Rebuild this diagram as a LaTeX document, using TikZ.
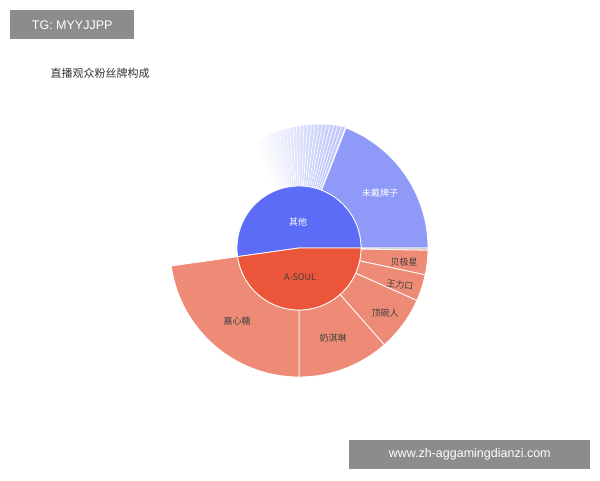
\documentclass[tikz,border=0pt]{standalone}
\usepackage{fontspec}
\setmainfont{Liberation Sans}
\newfontfamily\cjk{Noto Sans CJK SC}
\begin{document}
\begin{tikzpicture}[x=1pt,y=1pt,
  seg/.style={draw=white,line width=0.8pt},
  lbl/.style={font=\cjk\fontsize{9}{10}\selectfont,text=black!75},
  boxlbl/.style={fill=black!45,text=white,font=\fontsize{12.5}{14}\selectfont,inner sep=0pt,minimum height=29pt,anchor=north west}]
\useasboundingbox (0,0) rectangle (600,480);
\fill[white] (0,0) rectangle (600,480);
\definecolor{inblue}{HTML}{5D6CF6}
\definecolor{outblue}{HTML}{8F99F8}
\definecolor{inred}{HTML}{EB563A}
\definecolor{outred}{HTML}{EE8B76}
\newcommand{\ring}[5]{\fill[#5,seg] (#1:#3) arc (#1:#2:#3) -- (#2:#4) arc (#2:#1:#4) -- cycle;}
\begin{scope}[shift={(299,232)}]
 \foreach \i in {0,...,24}{
   \pgfmathsetmacro{\a}{69+1.7*\i}
   \pgfmathsetmacro{\b}{70.7+1.7*\i}
   \pgfmathsetmacro{\op}{max(0.04,0.55-0.022*\i)}
   \pgfmathsetmacro{\rr}{129-0.6*\i}
   \fill[outblue,opacity=\op] (\a:62) arc (\a:\b:62) -- (\b:\rr) arc (\b:\a:\rr) -- cycle;
   \draw[white,line width=0.6pt] (\a:62) -- (\a:129);
 }
 \ring{0}{68.6}{62}{129}{outblue}
 \ring{-1}{0}{62}{129}{black!25}
 \ring{-12}{-1}{62}{129}{outred}
 \ring{-24}{-12}{62}{129}{outred}
 \ring{-48.6}{-24}{62}{129}{outred}
 \ring{-90}{-48.6}{62}{129}{outred}
 \ring{-172}{-90}{62}{129}{outred}
 \fill[inblue,seg] (0,0) -- (0:62) arc (0:188:62) -- cycle;
 \fill[inred,seg] (0,0) -- (-172:62) arc (-172:0:62) -- cycle;
\end{scope}
\node[lbl,text=white] (n1) at (380,287) {未戴牌子};
\node[lbl,text=white] (n2) at (298,258) {其他};
\node[lbl] (n3) at (300,203) {A-SOUL};
\node[lbl] (n4) at (404,218) {贝极星};
\node[lbl,rotate=-8] (n5) at (400,195) {王力口};
\node[lbl] (n6) at (385,167) {顶碗人};
\node[lbl] (n7) at (333,142) {奶淇琳};
\node[lbl] (n8) at (237,159) {嘉心糖};
\node[font=\cjk\fontsize{11}{13}\selectfont,text=black!80,anchor=west] (t) at (47,407) {直播观众粉丝牌构成};
\node[boxlbl,minimum width=124pt] (tg) at (10,470) {TG: MYYJJPP};
\node[boxlbl,minimum width=241pt] (www) at (349,40) {www.zh-aggamingdianzi.com};
\end{tikzpicture}
\end{document}
